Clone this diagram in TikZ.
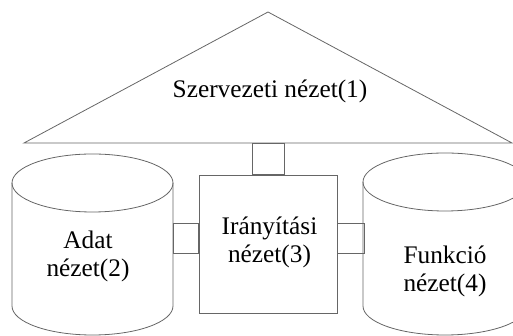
\documentclass[tikz,border=0pt]{standalone}
\usepackage{fontspec}
\setmainfont{Liberation Serif}
\begin{document}
\begin{tikzpicture}[x=1pt,y=1pt,
  outline/.style={draw=black!60, line width=0.8pt},
  label/.style={font=\fontsize{25.3}{28}\selectfont, align=center, inner sep=0pt, text=black}]
\useasboundingbox (0,0) rectangle (513,336);
\begin{scope}
\clip (0,0) rectangle (513,336);
% triangle (organisation view)
\coordinate (apex) at (268,324);
\coordinate (bl) at (24,193);
\coordinate (br) at (512,193);
\draw[outline] (apex) -- (bl) -- (br) -- cycle;
% control box
\node[outline, minimum width=138pt, minimum height=138pt, inner sep=0pt] (ctrl) at (268,92) {};
% left cylinder
\draw[outline] (92.5,153) ellipse[x radius=80.5, y radius=29];
\draw[outline] (12,153) -- (12,30) arc[start angle=180, end angle=360, x radius=80.5, y radius=29] -- (173,153);
% right cylinder
\draw[outline] (445,154) ellipse[x radius=82, y radius=29];
\draw[outline] (363,154) -- (363,30) arc[start angle=180, end angle=360, x radius=82, y radius=29] -- (527,154);
\end{scope}
% connectors
\coordinate (dataR) at (173,113);
\coordinate (funcL) at (364,83);
\draw[outline] (252,193) rectangle (ctrl.north -| 284,0);
\draw[outline] (dataR) rectangle (ctrl.west |- 0,83);
\draw[outline] (ctrl.east |- 0,113) rectangle (funcL);
% labels
\node[label] (org) at (270,245) {Szervezeti nézet(1)};
\node[label] (ctrlt) at (269.5,94) {Irányítási\\nézet(3)};
\node[label] (data) at (88,80) {Adat\\nézet(2)};
\node[label] (func) at (445,65) {Funkció\\nézet(4)};
\end{tikzpicture}
\end{document}
